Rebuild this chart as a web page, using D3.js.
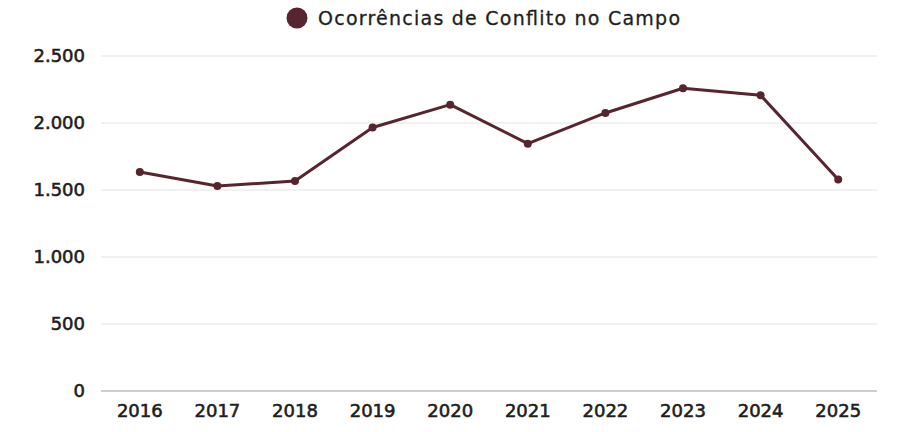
<!DOCTYPE html>
<html>
<head>
<meta charset="utf-8">
<script src="https://cdn.jsdelivr.net/npm/d3@7"></script>
<style>
  body { margin: 0; background: #fff; }
  svg text { font-family: "DejaVu Sans", "Noto Sans", sans-serif; fill: #1e1e1e; stroke: #1e1e1e; }
</style>
</head>
<body>
<svg id="chart" width="901" height="432"></svg>
<script>
const years = ['2016', '2017', '2018', '2019', '2020', '2021', '2022', '2023', '2024', '2025']
const conflitos = [1634, 1530, 1567, 1966, 2137, 1846, 2075, 2259, 2207, 1578]
const yTicks = [0, 500, 1000, 1500, 2000, 2500]
const seriesName = 'Ocorrências de Conflito no Campo'

const color = '#58242f'
const svg = d3.select('#chart')
const plotLeft = 101, plotRight = 877, plotTop = 56, plotBottom = 391

const x = d3.scalePoint().domain(years).range([plotLeft, plotRight]).padding(0.5)
const y = d3.scaleLinear().domain([0, 2500]).range([plotBottom, plotTop])
const fmt = d3.formatLocale({decimal: ',', thousands: '.', grouping: [3], currency: ['R$', '']}).format(',d')

// grid lines
svg.append('g')
  .selectAll('line')
  .data(yTicks)
  .join('line')
  .attr('x1', plotLeft)
  .attr('x2', plotRight)
  .attr('y1', d => y(d))
  .attr('y2', d => y(d))
  .attr('stroke', d => d == 0 ? '#bdbdbd' : '#e3e3e3')
  .attr('stroke-width', d => d == 0 ? 1.5 : 1.2)

// y labels
svg.append('g')
  .selectAll('text')
  .data(yTicks)
  .join('text')
  .attr('x', 85)
  .attr('y', d => y(d))
  .attr('dy', '0.36em')
  .attr('text-anchor', 'end')
  .attr('font-size', 18)
  .attr('stroke-width', 0.6)
  .text(d => fmt(d))

// x labels
svg.append('g')
  .selectAll('text')
  .data(years)
  .join('text')
  .attr('x', d => x(d))
  .attr('y', 417)
  .attr('text-anchor', 'middle')
  .attr('font-size', 18)
  .attr('stroke-width', 0.6)
  .text(d => d)

const pts = years.map((d, i) => ({year: d, v: conflitos[i]}))

svg.append('path')
  .datum(pts)
  .attr('fill', 'none')
  .attr('stroke', color)
  .attr('stroke-width', 3)
  .attr('stroke-linejoin', 'round')
  .attr('d', d3.line().x(d => x(d.year)).y(d => y(d.v)))

svg.append('g')
  .selectAll('circle')
  .data(pts)
  .join('circle')
  .attr('cx', d => x(d.year))
  .attr('cy', d => y(d.v))
  .attr('r', 4)
  .attr('fill', color)

// legend
svg.append('circle')
  .attr('cx', 297)
  .attr('cy', 18)
  .attr('r', 10.5)
  .attr('fill', color)
svg.append('text')
  .attr('x', 318)
  .attr('y', 25)
  .attr('font-size', 19)
  .attr('stroke-width', 0.3)
  .attr('textLength', 362)
  .text(seriesName)
</script>
</body>
</html>
